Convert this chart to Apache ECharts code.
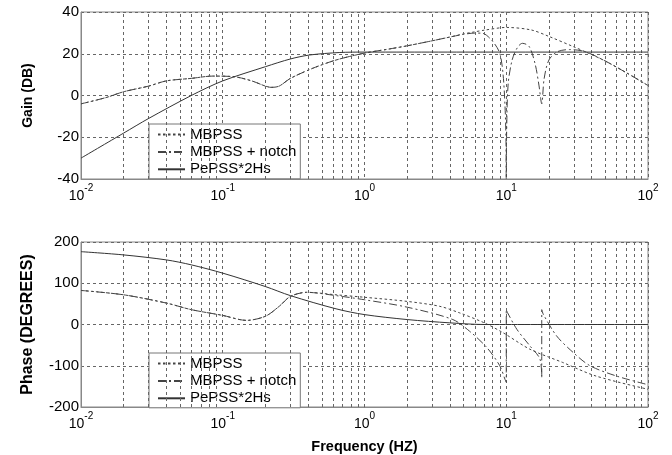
<!DOCTYPE html>
<html><head><meta charset="utf-8">
<script src="https://cdn.jsdelivr.net/npm/echarts@6/dist/echarts.min.js"></script>
<style>html,body{margin:0;padding:0;background:#fff}#c{width:672px;height:455px}</style>
</head><body><div id="c"></div>
<script>
const seriesNames = ['MBPSS', 'MBPSS + notch', 'PePSS*2Hs'];
const gainTicks = [-40, -20, 0, 20, 40];
const phaseTicks = [-200, -100, 0, 100, 200];
const minorGridFreqs = [0.02,0.03,0.04,0.05,0.06,0.07,0.08,0.09,0.2,0.3,0.4,0.5,0.6,0.7,0.8,0.9,2,3,4,5,6,7,8,9,20,30,40,50,60,70,80,90];

// Gain (dB)
const gainFreqMB = [0.01,0.015,0.02,0.03,0.04,0.06,0.085,0.12,0.16,0.2,0.22,0.25,0.3,0.43,0.63,1,1.5,2,3,4,5,6,7,10,15,20,30,36,50,70,100];
const gainMB = [-4,-1,1.8,4.5,7,8.2,9.3,9,7,4.5,3.9,4.5,8.2,13,17,20.3,22.3,23.8,26.2,28,29.5,30.5,31.3,32.6,31.4,28.3,23.3,21,16.5,11,4.8];
const gainFreqNotch = [0.01,0.015,0.02,0.03,0.04,0.06,0.085,0.12,0.16,0.2,0.22,0.25,0.3,0.43,0.63,1,1.5,2,3,4,5,6,6.8,8,9,9.5,9.8,9.95,10,10.05,10.3,11,12,13,14.5,16,17,17.8,18.5,20,23,28,36,50,70,100];
const gainNotch = [-4,-1,1.8,4.5,7,8.2,9.3,9,7,4.5,3.9,4.5,8.2,13,17,20.3,22.3,23.8,26.2,28,29.3,29.9,29.8,26,20.3,10,-5,-20,-40,-20,5,17,23,25,23.5,15,5,-4,8,17,21,22,21,16.5,11,4.8];
const gainFreqPe = [0.01,0.02,0.03,0.06,0.1,0.2,0.3,0.41,0.67,1,2,100];
const gainPe = [-30,-18,-11,0,7,13.8,17.5,19.4,20.6,20.8,20.8,20.8];

// Phase (degrees)
const phaseFreqMB = [0.01,0.02,0.04,0.06,0.1,0.147,0.2,0.25,0.3,0.39,0.63,1,2,3.4,4.7,7,9.5,14.7,25,43,100];
const phaseMB = [82.6,72,52,36,22,10,20,44,68,78,72,66,56,44,28,4,-20,-60,-92,-125,-157];
const phaseFreqNotch = [0.01,0.02,0.04,0.06,0.1,0.147,0.2,0.25,0.3,0.39,0.63,1,2,4.2,5.5,7.3,9,9.8,10,10,10.2,11.9,14.7,17.3,17.8,17.8,18.3,22.7,29.7,39,60,100];
const phaseNotch = [82.6,72,52,36,22,10,20,44,68,78,70,60,42,12,-16,-56,-100,-133,-140,36,29,-12,-52,-84,-130,36,24,-28,-68,-100,-125,-146];
const phaseFreqPe = [0.01,0.02,0.04,0.06,0.1,0.2,0.3,0.63,1,2,4,7,100];
const phasePe = [176.6,168.7,156.6,144.6,124.5,92,70,38,24,12,4,0,0];

function pairs(xs, ys) { return xs.map((x, i) => [x, ys[i]]); }

const FONT = 'Liberation Sans, Arial, sans-serif';
const gridLine = { show: true, lineStyle: { color: '#666', type: [3, 3], width: 1 } };
const lineStyles = [
  { color: '#444', width: 1, type: [2.5, 2.5] },
  { color: '#444', width: 1, type: [8, 3, 2, 3] },
  { color: '#333', width: 1, type: 'solid' }
];

function xAxisCfg(gridIndex, withName) {
  const ax = {
    type: 'log', logBase: 10, min: 0.01, max: 100, gridIndex,
    axisLine: { show: true, onZero: false, lineStyle: { color: '#888' } },
    axisTick: { show: false },
    splitLine: gridLine,
    axisLabel: {
      margin: 4,
      formatter: v => '{b|10}{s|' + Math.round(Math.log10(v)) + '}',
      rich: {
        b: { fontSize: 14, fontFamily: FONT, color: '#000', lineHeight: 20, verticalAlign: 'bottom' },
        s: { fontSize: 10, fontFamily: FONT, color: '#000', lineHeight: 4, verticalAlign: 'top' }
      }
    }
  };
  if (withName) {
    Object.assign(ax, {
      name: 'Frequency (HZ)', nameLocation: 'middle', nameGap: 32,
      nameTextStyle: { fontFamily: FONT, fontSize: 14.5, fontWeight: 'bold', color: '#000' }
    });
  }
  return ax;
}
function yAxisCfg(gridIndex, ticks, name, nameSize, nameGap) {
  return {
    type: 'value', gridIndex, min: ticks[0], max: ticks[ticks.length - 1],
    interval: ticks[1] - ticks[0],
    axisLine: { show: true, lineStyle: { color: '#888' } },
    axisTick: { show: false },
    splitLine: gridLine,
    axisLabel: { fontSize: 15, fontFamily: FONT, color: '#000', margin: 2 },
    name, nameLocation: 'middle', nameGap, nameRotate: 90,
    nameTextStyle: { fontFamily: FONT, fontSize: nameSize, fontWeight: 'bold', color: '#000' }
  };
}
function legendCfg(top) {
  return {
    data: seriesNames, orient: 'vertical', left: 149, top,
    backgroundColor: '#fff', borderColor: '#777', borderWidth: 1, borderRadius: 0,
    padding: [3, 4, 2, 8], itemWidth: 27, itemHeight: 14, itemGap: 2.4,
    itemStyle: { opacity: 0 },
    textStyle: { fontFamily: FONT, fontSize: 15, color: '#000', lineHeight: 14 },
    selectedMode: false
  };
}
function mkSeries(idx, gridIdx, data, withMark) {
  const s = {
    name: seriesNames[idx], type: 'line', xAxisIndex: gridIdx, yAxisIndex: gridIdx,
    data, symbol: 'none', showSymbol: false, smooth: 0.3, lineStyle: lineStyles[idx],
    itemStyle: { color: lineStyles[idx].color }, animation: false, z: 3 + idx, clip: true
  };
  if (withMark) {
    s.markLine = {
      silent: true, symbol: ['none', 'none'], label: { show: false }, animation: false,
      lineStyle: { color: '#666', type: [3, 3], width: 1 },
      data: minorGridFreqs.map(f => ({ xAxis: f }))
    };
  }
  return s;
}

const chart = echarts.init(document.getElementById('c'), null, { renderer: 'canvas' });
chart.setOption({
  backgroundColor: '#fff',
  animation: false,
  grid: [
    { left: 81, right: 24, top: 12, height: 167, show: true, borderColor: '#888', borderWidth: 1, backgroundColor: '#fff' },
    { left: 81, right: 24, top: 242, height: 166, show: true, borderColor: '#888', borderWidth: 1, backgroundColor: '#fff' }
  ],
  xAxis: [xAxisCfg(0, false), xAxisCfg(1, true)],
  yAxis: [yAxisCfg(0, gainTicks, 'Gain (DB)', 14, 46), yAxisCfg(1, phaseTicks, 'Phase (DEGREES)', 16, 45)],
  legend: [legendCfg(124), legendCfg(353)],
  series: [
    mkSeries(0, 0, pairs(gainFreqMB, gainMB), true),
    mkSeries(1, 0, pairs(gainFreqNotch, gainNotch), false),
    mkSeries(2, 0, pairs(gainFreqPe, gainPe), false),
    mkSeries(0, 1, pairs(phaseFreqMB, phaseMB), true),
    mkSeries(1, 1, pairs(phaseFreqNotch, phaseNotch), false),
    mkSeries(2, 1, pairs(phaseFreqPe, phasePe), false)
  ]
});
</script></body></html>
